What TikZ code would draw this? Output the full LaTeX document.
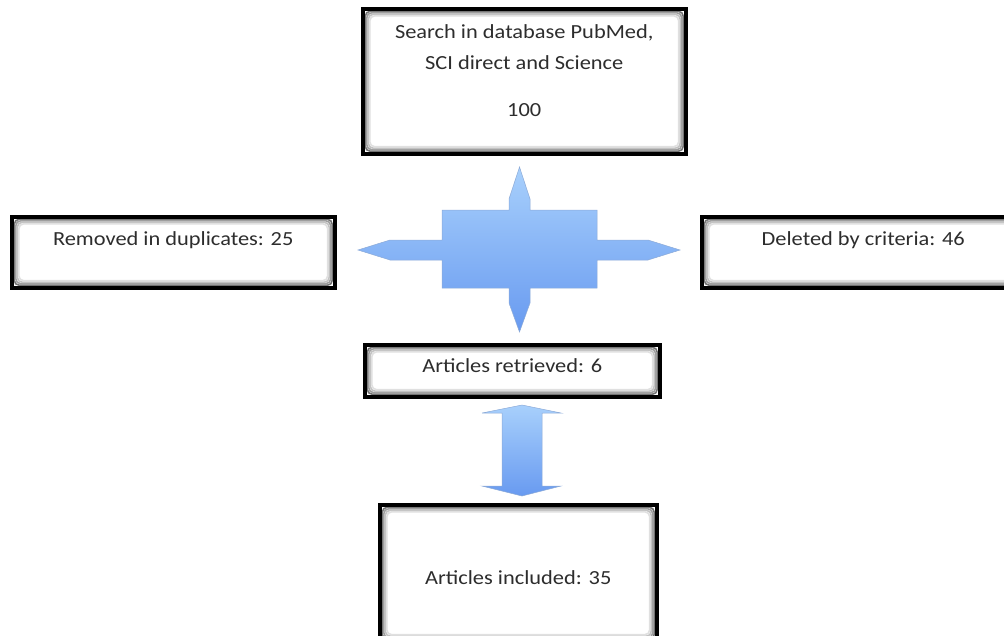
\documentclass[tikz,border=0pt]{standalone}
\usepackage{fontspec}
\setmainfont{Carlito}[FakeStretch=1.12]
\usetikzlibrary{positioning}

\definecolor{textgray}{RGB}{45,45,45}
\definecolor{arrowtop}{RGB}{168,208,252}
\definecolor{arrowbottom}{RGB}{104,154,240}
\definecolor{arrowedge}{RGB}{140,170,215}

\tikzset{
  glowbox/.style={draw=black, line width=3.5pt, fill=white, inner sep=0pt,
    anchor=north west, text=textgray, font=\fontsize{20}{31}\selectfont,
    path picture={
      \foreach \d/\c in {2.5/55,4/38,5.5/24,7/12}{
        \draw[black!\c, line width=1.6pt, rounded corners=5pt]
          ([xshift=\d pt,yshift=-\d pt]path picture bounding box.north west) rectangle
          ([xshift=-\d pt,yshift=\d pt]path picture bounding box.south east);
      }}},
  blockarrow/.style={draw=arrowedge, line width=0.5pt,
    top color=arrowtop, bottom color=arrowbottom}
}

\begin{document}
\begin{tikzpicture}[x=1pt,y=-1pt]
  \useasboundingbox (0,0) rectangle (1004,635);

  % boxes
  \node[glowbox, minimum width=323pt, text height=30pt, text depth=115pt] (search) at (361,7)
    {\parbox[t]{310pt}{\centering Search in database PubMed,\\SCI direct and Science\\[16pt]100}};
  \node[glowbox, minimum width=323pt, text height=29pt, text depth=42pt] (removed) at (10,215)
    {Removed in duplicates: 25};
  \node[glowbox, minimum width=323pt, text height=29pt, text depth=42pt] (deleted) at (700,215)
    {Deleted by criteria: 46};
  \node[glowbox, minimum width=295pt, text height=28pt, text depth=24pt] (retrieved) at (363,343)
    {Articles retrieved: 6};
  \node[glowbox, minimum width=277pt, text height=80pt, text depth=57pt] (included) at (378,503)
    {Articles included: 35};

  % four-way arrow
  \draw[blockarrow] (519.5,167) -- (530,199) -- (530,210) -- (597,210) -- (597,240)
    -- (648,240) -- (680,250) -- (648,260) -- (597,260) -- (597,288) -- (530,288)
    -- (530,303) -- (519.5,332) -- (509,303) -- (509,288) -- (442,288) -- (442,260)
    -- (390,260) -- (358,250) -- (390,240) -- (442,240) -- (442,210) -- (509,210)
    -- (509,199) -- cycle;

  % double arrow
  \draw[blockarrow] (522,405) -- (561,413) -- (542,413) -- (542,486) -- (561,486)
    -- (522,496) -- (482,486) -- (502,486) -- (502,413) -- (482,413) -- cycle;
\end{tikzpicture}
\end{document}
